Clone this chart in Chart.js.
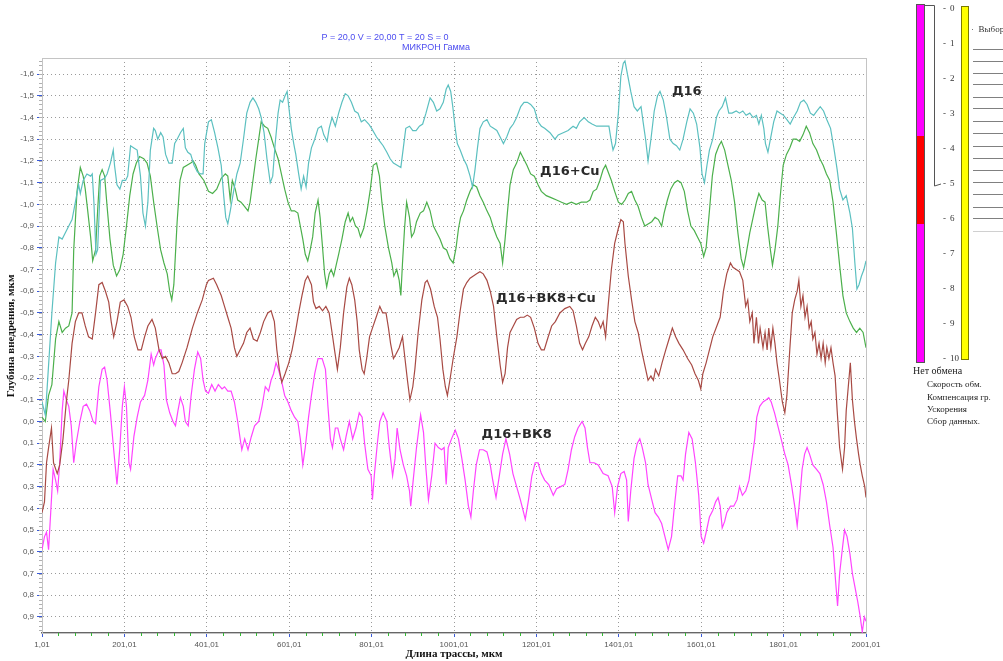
<!DOCTYPE html>
<html>
<head>
<meta charset="utf-8">
<script src="https://cdn.jsdelivr.net/npm/chart.js@4.4.1/dist/chart.umd.min.js"></script>
<style>
  html, body { margin: 0; padding: 0; background: #fff; }
  #wrap { width: 1003px; height: 661px; }
</style>
</head>
<body>
<div id="wrap"><canvas id="chart" width="1003" height="661"></canvas></div>
<script>
// ---- axis ticks ----
const xTicks = [1.01, 201.01, 401.01, 601.01, 801.01, 1001.01, 1201.01, 1401.01, 1601.01, 1801.01, 2001.01];
const yTicks = [-1.6, -1.5, -1.4, -1.3, -1.2, -1.1, -1.0, -0.9, -0.8, -0.7, -0.6, -0.5, -0.4, -0.3, -0.2, -0.1,
                0.0, 0.1, 0.2, 0.3, 0.4, 0.5, 0.6, 0.7, 0.8, 0.9];
const panelTicks = [0, 1, 2, 3, 4, 5, 6, 7, 8, 9, 10];
const panelItems = ['Скорость обм.', 'Компенсация гр.', 'Ускорения', 'Сбор данных.'];

// ---- series: [длина трассы, глубина внедрения] ----
const seriesNames = ['Д16', 'Д16+Cu', 'Д16+ВК8+Cu', 'Д16+ВК8'];

const d16 = [
  [1,-0.09],[9,-0.03],[13,-0.14],[25,-0.50],[34,-0.73],[42,-0.85],[50,-0.84],[58,-0.87],[66,-0.90],[74,-0.93],
  [82,-1.01],[90,-1.09],[94,-1.05],[101,-1.11],[110,-1.14],[119,-1.13],[123,-1.14],[127,-1.01],[132,-0.77],[136,-0.79],
  [143,-1.11],[153,-1.12],[159,-1.14],[167,-1.19],[174,-1.25],[177,-1.18],[183,-1.09],[190,-1.07],[196,-1.11],[204,-1.11],
  [209,-1.13],[216,-1.27],[224,-1.26],[232,-1.25],[240,-1.13],[246,-0.96],[252,-0.90],[258,-1.01],[264,-1.25],[272,-1.35],
  [276,-1.34],[282,-1.30],[289,-1.33],[295,-1.31],[301,-1.23],[309,-1.19],[317,-1.19],[323,-1.28],[329,-1.30],[337,-1.33],
  [344,-1.35],[349,-1.26],[355,-1.24],[362,-1.23],[370,-1.18],[378,-1.15],[386,-1.14],[392,-1.14],[396,-1.28],
  [405,-1.38],[412,-1.39],[420,-1.33],[428,-1.26],[436,-1.18],[442,-1.04],[447,-0.94],[452,-0.91],[458,-0.97],[466,-1.06],
  [474,-1.14],[482,-1.19],[490,-1.30],[498,-1.42],[506,-1.47],[513,-1.49],[520,-1.47],[527,-1.44],[533,-1.40],[540,-1.33],
  [547,-1.21],[555,-1.10],[561,-1.13],[567,-1.28],[574,-1.42],[579,-1.48],[585,-1.47],[591,-1.50],[596,-1.52],[600,-1.45],
  [606,-1.35],[612,-1.28],[617,-1.23],[624,-1.14],[630,-1.07],[636,-1.13],[642,-1.08],[648,-1.19],[655,-1.26],[663,-1.30],
  [671,-1.35],[679,-1.36],[685,-1.32],[693,-1.29],[698,-1.35],[705,-1.40],[713,-1.36],[721,-1.42],[729,-1.47],[737,-1.51],
  [744,-1.50],[752,-1.47],[760,-1.43],[768,-1.42],[776,-1.38],[784,-1.39],[794,-1.37],
  [801,-1.35],[813,-1.31],[821,-1.29],[829,-1.27],[838,-1.24],[846,-1.21],[854,-1.19],[863,-1.18],[872,-1.17],[878,-1.26],
  [884,-1.35],[893,-1.36],[901,-1.34],[909,-1.34],[917,-1.36],[925,-1.37],[933,-1.42],[943,-1.49],[951,-1.47],[959,-1.43],
  [967,-1.44],[975,-1.47],[982,-1.53],[987,-1.55],[993,-1.52],[998,-1.45],[1004,-1.35],[1009,-1.28],[1016,-1.25],[1024,-1.21],
  [1032,-1.18],[1040,-1.13],[1046,-1.08],[1052,-1.16],[1058,-1.26],[1064,-1.35],[1072,-1.38],[1081,-1.39],[1089,-1.36],[1097,-1.35],
  [1105,-1.34],[1113,-1.31],[1121,-1.28],[1129,-1.31],[1137,-1.35],[1145,-1.37],[1153,-1.40],[1163,-1.45],[1171,-1.47],[1179,-1.47],
  [1187,-1.46],[1196,-1.44],
  [1205,-1.38],[1213,-1.36],[1221,-1.35],[1234,-1.33],[1246,-1.30],[1254,-1.32],[1266,-1.33],[1278,-1.34],[1290,-1.36],[1298,-1.35],
  [1306,-1.38],[1317,-1.40],[1327,-1.38],[1336,-1.37],[1347,-1.36],[1359,-1.36],[1371,-1.36],[1377,-1.36],[1382,-1.30],[1387,-1.25],
  [1393,-1.28],[1400,-1.42],[1406,-1.59],[1412,-1.65],[1416,-1.66],[1422,-1.60],[1430,-1.52],[1438,-1.45],[1446,-1.43],[1455,-1.45],
  [1460,-1.38],[1466,-1.30],[1472,-1.20],[1479,-1.30],[1487,-1.43],[1495,-1.50],[1501,-1.52],[1509,-1.48],[1517,-1.40],[1525,-1.30],
  [1533,-1.28],[1541,-1.27],[1549,-1.25],[1557,-1.30],[1566,-1.38],[1574,-1.44],[1582,-1.42],[1590,-1.37],[1598,-1.26],
  [1603,-1.14],[1609,-1.10],[1615,-1.18],[1621,-1.25],[1629,-1.30],[1638,-1.40],[1644,-1.43],[1652,-1.45],[1660,-1.49],[1668,-1.42],
  [1676,-1.42],[1686,-1.43],[1694,-1.42],[1702,-1.43],[1710,-1.41],[1719,-1.42],[1727,-1.40],[1735,-1.41],[1741,-1.37],[1747,-1.41],
  [1753,-1.35],[1757,-1.28],[1763,-1.24],[1769,-1.30],[1777,-1.38],[1785,-1.43],[1793,-1.42],[1801,-1.41],[1809,-1.39],[1817,-1.37],
  [1825,-1.40],[1834,-1.43],[1842,-1.47],[1850,-1.48],[1858,-1.46],[1866,-1.42],[1874,-1.41],[1882,-1.43],[1890,-1.45],[1898,-1.43],
  [1906,-1.39],[1915,-1.35],[1923,-1.26],[1931,-1.16],[1937,-1.07],[1945,-1.02],[1953,-1.04],[1962,-0.96],[1968,-0.89],[1974,-0.73],
  [1979,-0.61],[1984,-0.63],[1990,-0.67],[1996,-0.70],[2001,-0.74]
];

const d16Cu = [
  [1,-0.02],[9,0.00],[17,-0.12],[25,-0.17],[34,-0.38],[42,-0.46],[50,-0.41],[58,-0.43],[66,-0.44],[74,-0.50],
  [78,-0.79],[86,-1.06],[94,-1.17],[101,-1.13],[106,-1.07],[112,-0.97],[119,-0.85],[124,-0.74],[131,-0.79],[136,-0.97],
  [141,-1.13],[147,-1.16],[153,-1.13],[159,-0.99],[166,-0.84],[174,-0.72],[182,-0.67],[190,-0.70],[198,-0.77],[206,-0.90],
  [214,-1.04],[222,-1.14],[230,-1.19],[238,-1.22],[248,-1.21],[256,-1.19],[264,-1.13],[272,-1.01],[281,-0.89],[289,-0.79],
  [297,-0.73],[305,-0.68],[311,-0.60],[316,-0.56],[321,-0.63],[329,-0.92],[336,-1.11],[344,-1.17],[353,-1.18],[362,-1.19],
  [368,-1.20],[374,-1.18],[382,-1.14],[394,-1.11],
  [405,-1.06],[415,-1.05],[425,-1.07],[436,-1.12],[446,-1.14],[452,-1.13],[458,-1.02],[463,-1.11],[470,-1.07],[476,-1.02],
  [484,-1.01],[493,-0.99],[501,-0.97],[506,-1.01],[513,-1.11],[520,-1.21],[527,-1.30],[533,-1.38],[541,-1.36],[549,-1.35],
  [557,-1.31],[565,-1.26],[574,-1.21],[582,-1.14],[590,-1.07],[598,-1.01],[606,-0.97],[614,-0.97],[622,-0.96],[628,-0.90],
  [634,-0.84],[640,-0.77],[646,-0.74],[652,-0.79],[658,-0.85],[664,-0.96],[671,-1.02],[676,-0.94],[682,-0.80],[687,-0.68],
  [692,-0.62],[698,-0.68],[703,-0.70],[709,-0.67],[715,-0.72],[721,-0.77],[729,-0.84],[737,-0.92],[744,-0.96],[749,-0.92],
  [755,-0.94],[762,-0.90],[768,-0.89],[774,-0.85],[782,-0.89],[790,-0.97],[798,-1.07],
  [805,-1.18],[813,-1.19],[820,-1.13],[826,-1.01],[833,-0.90],[842,-0.80],[850,-0.73],[855,-0.67],[862,-0.70],[868,-0.65],
  [872,-0.58],[876,-0.73],[881,-0.89],[886,-1.01],[893,-0.94],[898,-0.85],[904,-0.87],[910,-0.92],[919,-0.96],[927,-0.97],
  [935,-1.01],[943,-0.97],[951,-0.90],[959,-0.87],[967,-0.84],[975,-0.80],[983,-0.79],[991,-0.75],[999,-0.73],[1006,-0.80],
  [1012,-0.89],[1017,-0.94],[1024,-0.97],[1032,-1.02],[1040,-1.06],[1048,-1.09],[1056,-1.08],[1064,-1.04],[1072,-1.01],[1081,-0.97],
  [1089,-0.94],[1097,-0.89],[1105,-0.85],[1113,-0.82],[1119,-0.73],[1125,-0.84],[1131,-0.97],[1137,-1.09],[1145,-1.16],[1153,-1.19],
  [1162,-1.24],[1170,-1.21],[1178,-1.18],[1187,-1.14],[1196,-1.13],
  [1205,-1.09],[1213,-1.06],[1225,-1.04],[1238,-1.03],[1250,-1.02],[1262,-1.01],[1274,-1.00],[1286,-1.01],[1298,-1.00],[1310,-1.01],
  [1323,-1.01],[1331,-1.02],[1339,-1.06],[1347,-1.07],[1355,-1.11],[1363,-1.16],[1369,-1.18],[1375,-1.15],[1383,-1.11],[1391,-1.06],
  [1400,-1.01],[1408,-1.00],[1416,-1.02],[1424,-1.05],[1432,-1.06],[1440,-1.02],[1448,-0.99],[1456,-0.94],[1464,-0.90],[1472,-0.91],
  [1481,-0.92],[1489,-0.94],[1497,-0.93],[1505,-0.90],[1511,-0.96],[1519,-1.02],[1527,-1.07],[1536,-1.10],[1544,-1.11],[1552,-1.10],
  [1560,-1.06],[1568,-0.97],[1576,-0.90],[1584,-0.88],[1592,-0.85],[1600,-0.82],
  [1607,-0.76],[1613,-0.80],[1621,-0.97],[1628,-1.13],[1636,-1.23],[1644,-1.27],[1650,-1.29],[1658,-1.25],[1666,-1.18],[1674,-1.11],
  [1682,-1.01],[1690,-0.87],[1698,-0.75],[1704,-0.71],[1710,-0.77],[1719,-0.87],[1727,-0.94],[1735,-1.01],[1741,-1.05],[1749,-1.02],
  [1756,-1.01],[1762,-0.90],[1769,-0.79],[1774,-0.72],[1780,-0.79],[1787,-0.90],[1793,-1.04],[1800,-1.18],[1808,-1.23],[1816,-1.26],
  [1824,-1.30],[1832,-1.30],[1840,-1.29],[1848,-1.32],[1856,-1.36],[1864,-1.33],[1872,-1.28],[1881,-1.25],[1889,-1.21],[1897,-1.18],
  [1905,-1.14],[1913,-1.11],[1921,-1.01],[1929,-0.87],[1937,-0.72],[1945,-0.58],[1953,-0.50],[1962,-0.46],[1970,-0.43],[1978,-0.41],
  [1986,-0.43],[1994,-0.41],[2001,-0.34]
];

const d16Vk8Cu = [
  [1,0.42],[7,0.37],[12,0.19],[17,0.12],[24,0.03],[29,0.19],[38,0.24],[44,0.20],[52,0.08],[60,-0.09],
  [66,-0.19],[74,-0.36],[82,-0.46],[90,-0.50],[98,-0.50],[106,-0.44],[114,-0.39],[123,-0.38],[131,-0.50],[139,-0.63],
  [147,-0.64],[155,-0.60],[163,-0.55],[169,-0.46],[175,-0.39],[183,-0.46],[191,-0.55],[200,-0.56],[209,-0.53],[217,-0.48],
  [225,-0.39],[234,-0.33],[242,-0.33],[250,-0.39],[258,-0.44],[268,-0.47],[276,-0.43],[285,-0.33],[293,-0.29],[301,-0.30],
  [309,-0.27],[317,-0.22],[325,-0.22],[333,-0.23],[341,-0.27],[353,-0.34],[366,-0.43],[378,-0.50],[390,-0.56],[400,-0.63],
  [405,-0.65],[417,-0.66],[425,-0.63],[436,-0.58],[444,-0.53],[452,-0.48],[460,-0.43],[468,-0.34],[474,-0.30],[482,-0.33],
  [490,-0.36],[498,-0.41],[506,-0.43],[514,-0.38],[523,-0.37],[531,-0.41],[539,-0.46],[549,-0.50],[557,-0.51],[565,-0.46],
  [571,-0.33],[577,-0.24],[583,-0.18],[591,-0.22],[600,-0.27],[608,-0.33],[616,-0.41],[624,-0.50],[632,-0.58],[640,-0.65],
  [646,-0.67],[655,-0.63],[660,-0.55],[666,-0.52],[674,-0.53],[682,-0.51],[690,-0.53],[698,-0.50],[705,-0.41],[711,-0.33],
  [718,-0.24],[725,-0.34],[733,-0.50],[741,-0.62],[747,-0.66],[753,-0.63],[760,-0.56],[766,-0.46],[771,-0.33],[778,-0.24],
  [783,-0.22],[789,-0.29],[796,-0.39],
  [803,-0.43],[812,-0.48],[821,-0.53],[828,-0.50],[836,-0.50],[842,-0.43],[847,-0.36],[854,-0.29],[860,-0.31],[868,-0.34],
  [876,-0.39],[882,-0.29],[888,-0.19],[894,-0.10],[901,-0.16],[906,-0.24],[914,-0.41],[923,-0.56],[931,-0.64],[936,-0.65],
  [944,-0.61],[953,-0.53],[961,-0.48],[967,-0.38],[974,-0.24],[980,-0.16],[985,-0.12],[991,-0.19],[999,-0.29],[1008,-0.39],
  [1016,-0.51],[1024,-0.61],[1032,-0.64],[1040,-0.66],[1048,-0.67],[1056,-0.68],[1064,-0.69],[1072,-0.68],[1081,-0.65],[1089,-0.60],
  [1097,-0.53],[1105,-0.39],[1113,-0.26],[1119,-0.18],[1125,-0.22],[1131,-0.34],[1137,-0.41],[1145,-0.44],[1153,-0.47],[1162,-0.48],
  [1171,-0.48],[1179,-0.49],[1187,-0.48],[1196,-0.43],
  [1205,-0.36],[1213,-0.33],[1220,-0.33],[1228,-0.38],[1238,-0.44],[1247,-0.46],[1258,-0.50],[1270,-0.52],[1282,-0.53],[1290,-0.51],
  [1298,-0.44],[1306,-0.36],[1313,-0.33],[1320,-0.36],[1328,-0.39],[1336,-0.44],[1344,-0.48],[1351,-0.46],[1357,-0.43],[1363,-0.46],
  [1369,-0.39],[1375,-0.53],[1383,-0.70],[1391,-0.82],[1400,-0.89],[1406,-0.93],[1412,-0.92],[1416,-0.82],[1424,-0.67],[1432,-0.56],
  [1440,-0.46],[1448,-0.41],[1456,-0.33],[1464,-0.26],[1472,-0.19],[1479,-0.21],[1485,-0.19],[1490,-0.24],[1498,-0.21],[1506,-0.27],
  [1515,-0.33],[1523,-0.38],[1531,-0.43],[1539,-0.39],[1547,-0.36],[1557,-0.33],[1568,-0.29],[1578,-0.26],[1586,-0.22],[1594,-0.19],
  [1600,-0.15],
  [1605,-0.22],[1613,-0.27],[1621,-0.33],[1629,-0.39],[1639,-0.44],[1647,-0.48],[1655,-0.60],[1663,-0.68],[1672,-0.73],[1678,-0.71],
  [1686,-0.70],[1694,-0.69],[1702,-0.65],[1709,-0.53],[1714,-0.56],[1719,-0.46],[1725,-0.50],[1729,-0.36],[1735,-0.48],[1740,-0.36],
  [1744,-0.43],[1751,-0.34],[1756,-0.41],[1761,-0.33],[1765,-0.43],[1770,-0.34],[1775,-0.43],[1780,-0.36],[1785,-0.27],[1791,-0.19],
  [1798,-0.09],[1804,-0.04],[1809,-0.12],[1816,-0.33],[1822,-0.50],[1828,-0.56],[1834,-0.60],[1838,-0.65],[1843,-0.53],[1848,-0.58],
  [1853,-0.48],[1858,-0.53],[1863,-0.43],[1868,-0.46],[1872,-0.38],[1877,-0.41],[1882,-0.31],[1887,-0.36],[1892,-0.29],[1897,-0.36],
  [1902,-0.27],[1906,-0.34],[1911,-0.29],[1916,-0.34],[1921,-0.27],[1926,-0.21],[1931,-0.05],[1937,0.12],[1944,0.22],[1949,0.12],
  [1953,-0.05],[1958,-0.16],[1963,-0.27],[1968,-0.10],[1973,0.00],[1978,0.08],[1983,0.15],[1987,0.20],[1992,0.25],[1998,0.30],
  [2001,0.35]
];

const d16Vk8 = [
  [1,0.59],[7,0.53],[12,0.51],[17,0.59],[23,0.39],[28,0.22],[34,0.27],[39,0.32],[44,0.19],[50,-0.05],
  [54,-0.14],[60,-0.10],[66,-0.07],[72,0.02],[78,0.19],[84,0.10],[93,0.00],[101,-0.07],[109,-0.08],[117,-0.05],
  [125,0.00],[131,0.01],[139,-0.16],[147,-0.24],[153,-0.25],[159,-0.19],[167,-0.04],[175,0.13],[183,0.29],[190,0.12],
  [196,-0.07],[201,-0.16],[206,-0.07],[212,0.19],[216,0.22],[224,0.07],[232,-0.02],[240,-0.09],[250,-0.12],[258,-0.19],
  [266,-0.31],[272,-0.26],[276,-0.29],[285,-0.33],[290,-0.33],[297,-0.26],[303,-0.10],[311,-0.04],[319,0.00],[325,0.02],
  [331,-0.05],[337,-0.11],[344,-0.07],[349,0.00],[356,0.02],[363,-0.12],[371,-0.24],[379,-0.32],[386,-0.29],[392,-0.19],
  [398,-0.14],
  [405,-0.13],[413,-0.17],[421,-0.14],[429,-0.17],[438,-0.15],[444,-0.16],[452,-0.14],[460,-0.14],[468,-0.09],[476,0.00],
  [482,0.08],[486,0.13],[493,0.08],[501,0.13],[509,0.07],[517,0.02],[527,0.00],[535,-0.07],[543,-0.16],[551,-0.14],
  [557,-0.19],[563,-0.22],[569,-0.27],[575,-0.24],[582,-0.19],[590,-0.12],[598,-0.09],[606,-0.05],[614,-0.02],[622,0.00],
  [628,0.08],[634,0.20],[640,0.12],[648,-0.02],[655,-0.12],[663,-0.22],[671,-0.29],[681,-0.29],[689,-0.24],[695,-0.07],
  [701,0.08],[706,0.12],[713,0.03],[719,0.03],[725,0.08],[733,0.13],[739,0.07],[747,0.00],[755,0.08],[763,0.03],
  [771,-0.04],[778,-0.02],[784,0.10],[792,0.22],[800,0.25],
  [803,0.36],[808,0.24],[815,0.10],[821,0.00],[829,-0.04],[838,0.00],[844,0.12],[852,0.25],[858,0.17],[863,0.03],
  [870,0.13],[878,0.20],[886,0.25],[893,0.32],[896,0.39],[902,0.27],[910,0.12],[920,-0.03],[927,0.05],[933,0.22],
  [939,0.36],[947,0.25],[955,0.10],[963,0.12],[971,0.13],[977,0.12],[982,0.29],[987,0.12],[995,0.08],[1004,0.04],
  [1012,0.08],[1020,0.17],[1028,0.27],[1036,0.39],[1042,0.44],[1048,0.32],[1055,0.20],[1063,0.13],[1072,0.13],[1081,0.14],
  [1089,0.20],[1095,0.27],[1103,0.35],[1111,0.25],[1119,0.15],[1127,0.08],[1136,0.15],[1144,0.24],[1153,0.30],[1162,0.36],
  [1170,0.42],[1174,0.45],[1182,0.36],[1190,0.25],[1198,0.19],
  [1205,0.19],[1213,0.24],[1221,0.27],[1231,0.29],[1242,0.34],[1250,0.31],[1260,0.30],[1270,0.29],[1278,0.22],[1286,0.13],
  [1294,0.07],[1302,0.03],[1312,0.00],[1319,0.03],[1325,0.12],[1331,0.19],[1341,0.19],[1351,0.20],[1363,0.24],[1375,0.25],
  [1385,0.30],[1391,0.42],[1398,0.30],[1406,0.24],[1414,0.23],[1420,0.27],[1424,0.46],[1430,0.32],[1438,0.17],[1446,0.10],
  [1452,0.08],[1458,0.12],[1466,0.19],[1472,0.29],[1481,0.36],[1489,0.42],[1497,0.44],[1505,0.47],[1513,0.53],[1521,0.59],
  [1529,0.53],[1536,0.39],[1544,0.25],[1552,0.25],[1557,0.27],[1563,0.15],[1571,0.05],[1579,0.08],[1587,0.19],[1595,0.34],
  [1601,0.53],[1607,0.56],[1613,0.51],[1621,0.44],[1629,0.41],[1636,0.37],[1642,0.35],[1647,0.39],[1652,0.49],[1658,0.46],
  [1663,0.42],[1672,0.39],[1680,0.39],[1688,0.36],[1694,0.30],[1701,0.34],[1709,0.32],[1717,0.27],[1723,0.19],[1731,0.08],
  [1736,-0.02],[1743,-0.07],[1751,-0.09],[1759,-0.10],[1765,-0.11],[1771,-0.09],[1779,-0.04],[1787,0.02],[1795,0.08],[1804,0.15],
  [1812,0.20],[1820,0.29],[1828,0.39],[1834,0.48],[1840,0.36],[1846,0.22],[1852,0.15],[1858,0.12],[1864,0.15],[1872,0.20],
  [1881,0.22],[1889,0.24],[1897,0.29],[1905,0.37],[1913,0.48],[1921,0.58],[1927,0.73],[1932,0.85],[1937,0.70],[1944,0.58],
  [1949,0.50],[1955,0.53],[1962,0.61],[1968,0.70],[1974,0.76],[1981,0.83],[1987,0.90],[1992,0.97],[1997,0.90],[2001,0.92]
];

const seriesData = [d16, d16Cu, d16Vk8Cu, d16Vk8];
const seriesColors = ['#5cc0c0', '#4cb04c', '#a84a44', '#ff44ff'];

// where the curve names are written (data coordinates)
const nameAnchors = [[1566, -1.517], [1282, -1.149], [1224, -0.564], [1153, 0.062]];

function fmt(v, digits) {
  return v.toFixed(digits).replace('.', ',');
}

const decor = {
  id: 'decor',
  beforeDatasetsDraw(chart) {
    const { ctx, chartArea: a } = chart;
    ctx.save();
    ctx.strokeStyle = '#c4c4c4';
    ctx.lineWidth = 1;
    ctx.strokeRect(a.left + 0.5, a.top + 0.5, a.right - a.left, a.bottom - a.top);
    ctx.restore();
  },
  afterDatasetsDraw(chart) {
    const { ctx, scales: { x, y } } = chart;
    ctx.save();
    ctx.font = 'bold 13px "DejaVu Sans"';
    ctx.fillStyle = '#2a2a2a';
    ctx.textAlign = 'center';
    ctx.textBaseline = 'middle';
    seriesNames.forEach(function(name, i) {
      ctx.fillText(name, x.getPixelForValue(nameAnchors[i][0]), y.getPixelForValue(nameAnchors[i][1]));
    });
    ctx.restore();
  },
  afterDraw(chart) {
    const { ctx, chartArea: a, scales: { x, y } } = chart;
    ctx.save();

    // minor ticks
    ctx.lineWidth = 1;
    ctx.strokeStyle = '#b0b0b0';
    for (let k = -83; k <= 48; k++) {
      const py = Math.round(y.getPixelForValue(k * 0.02)) + 0.5;
      ctx.beginPath(); ctx.moveTo(a.left - 3, py); ctx.lineTo(a.left, py); ctx.stroke();
    }
    ctx.strokeStyle = '#33bb33';
    for (let v = 41.01; v < 2001; v += 40) {
      if (Math.abs((v - 1.01) % 200) < 1) continue;
      const px = Math.round(x.getPixelForValue(v)) + 0.5;
      ctx.beginPath(); ctx.moveTo(px, a.bottom); ctx.lineTo(px, a.bottom + 3); ctx.stroke();
    }

    // header
    ctx.fillStyle = '#4d4df0';
    ctx.font = '9px "Liberation Sans"';
    ctx.textAlign = 'center';
    ctx.textBaseline = 'middle';
    ctx.fillText('P = 20,0 V = 20,00 T = 20 S = 0', 385, 38);
    ctx.fillText('МИКРОН Гамма', 436, 48);

    // axis titles
    ctx.fillStyle = '#111';
    ctx.font = 'bold 11px "Liberation Serif"';
    ctx.fillText('Длина трассы, мкм', (a.left + a.right) / 2, 654);
    ctx.translate(11, 336);
    ctx.rotate(-Math.PI / 2);
    ctx.fillText('Глубина внедрения, мкм', 0, 0);
    ctx.setTransform(1, 0, 0, 1, 0, 0);

    // side indicator panel
    ctx.fillStyle = '#ff00ff';
    ctx.fillRect(917, 5, 7, 357);
    ctx.fillStyle = '#ff0000';
    ctx.fillRect(917, 136, 7, 88);
    ctx.strokeStyle = '#555';
    ctx.strokeRect(916.5, 4.5, 8, 358);
    ctx.beginPath();
    ctx.moveTo(925, 5.5); ctx.lineTo(934.5, 5.5); ctx.lineTo(934.5, 186); ctx.lineTo(941, 184);
    ctx.stroke();

    ctx.fillStyle = '#333';
    ctx.font = '9px "Liberation Serif"';
    ctx.textAlign = 'left';
    panelTicks.forEach(function(t, i) {
      const py = 9 + i * 35;
      ctx.fillText('-', 943, py);
      ctx.fillText(String(t), 950, py);
    });

    ctx.fillStyle = '#ffff00';
    ctx.fillRect(962, 7, 6, 352);
    ctx.strokeStyle = '#7a7a00';
    ctx.strokeRect(961.5, 6.5, 7, 353);

    ctx.fillStyle = '#333';
    ctx.fillText('·  Выборка', 971, 30);
    [49, 61, 73, 84, 97, 108, 121, 133, 146, 158, 170, 182, 194, 207, 218, 231].forEach(function(py, i) {
      ctx.strokeStyle = i === 15 ? '#d0d0d0' : '#808080';
      ctx.beginPath(); ctx.moveTo(973, py + 0.5); ctx.lineTo(1003, py + 0.5); ctx.stroke();
    });

    ctx.fillStyle = '#222';
    ctx.font = '10px "Liberation Serif"';
    ctx.fillText('Нет обмена', 913, 371);
    ctx.font = '9px "Liberation Serif"';
    panelItems.forEach(function(t, i) {
      ctx.fillText(t, 927, 385 + i * 12.3);
    });

    ctx.restore();
  }
};

new Chart(document.getElementById('chart').getContext('2d'), {
  type: 'line',
  data: {
    datasets: seriesData.map(function(s, i) {
      return {
        label: seriesNames[i],
        data: s.map(function(p) { return { x: p[0], y: p[1] }; }),
        borderColor: seriesColors[i],
        borderWidth: 1.2,
        pointRadius: 0,
        tension: 0,
        fill: false
      };
    })
  },
  options: {
    responsive: false,
    animation: false,
    layout: { padding: { left: 0, right: 137, top: 58, bottom: 0 } },
    plugins: {
      legend: { display: false },
      tooltip: { enabled: false },
      title: { display: false }
    },
    scales: {
      x: {
        type: 'linear',
        min: 1.01,
        max: 2001.01,
        afterFit: function(s) { s.height = 28; },
        afterBuildTicks: function(s) { s.ticks = xTicks.map(function(v) { return { value: v }; }); },
        ticks: {
          autoSkip: false, maxRotation: 0, padding: 3, color: '#555',
          font: { family: 'Liberation Sans', size: 8 },
          callback: function(v) { return fmt(v, 2); }
        },
        grid: { color: '#9a9a9a', tickColor: '#3a5ad8', tickLength: 4, tickBorderDash: [] },
        border: { color: '#666', width: 1.5, dash: [1, 3] }
      },
      y: {
        type: 'linear',
        reverse: true,
        min: -1.674,
        max: 0.974,
        afterFit: function(s) { s.width = 42; },
        afterBuildTicks: function(s) { s.ticks = yTicks.map(function(v) { return { value: v }; }); },
        ticks: {
          autoSkip: false, padding: 3, color: '#555',
          font: { family: 'Liberation Sans', size: 8 },
          callback: function(v) { return fmt(v, 1); }
        },
        grid: { color: '#9a9a9a', tickColor: '#3a5ad8', tickLength: 5, tickBorderDash: [] },
        border: { color: '#888', width: 1, dash: [1, 3] }
      }
    }
  },
  plugins: [decor]
});
</script>
</body>
</html>
